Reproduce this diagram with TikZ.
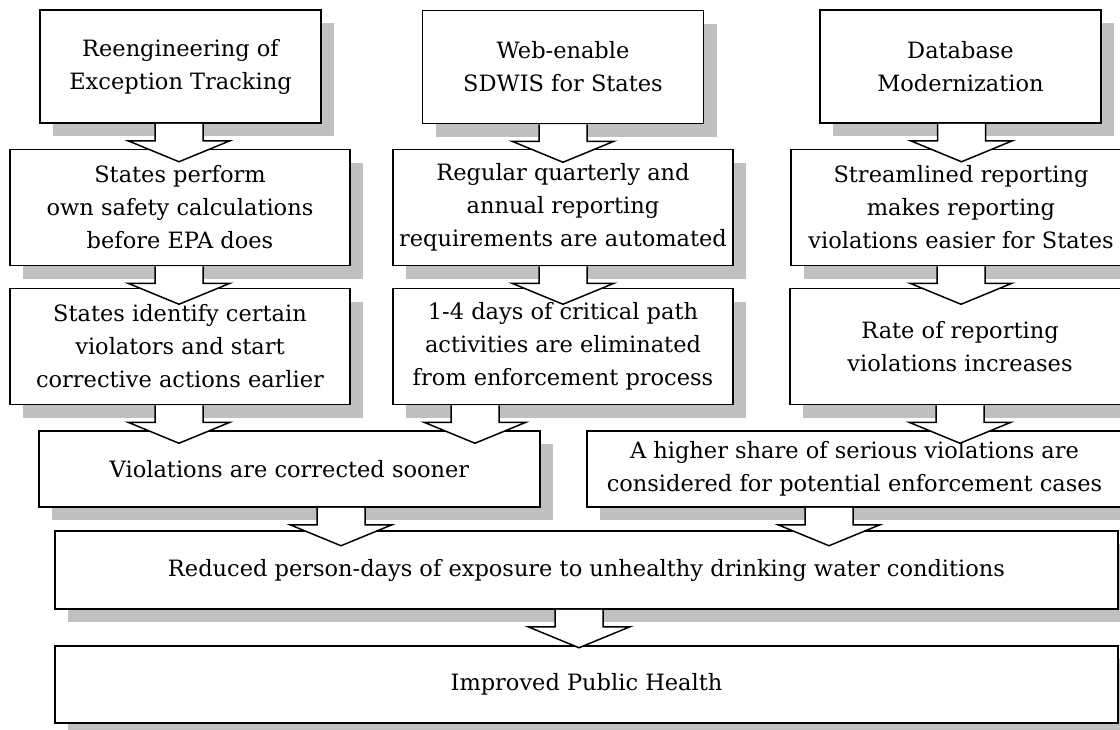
\documentclass[tikz,border=0pt]{standalone}
\usepackage{fontspec}
\setmainfont{DejaVu Serif}
\usetikzlibrary{shadows,calc}
\definecolor{shadowgray}{RGB}{192,192,192}

\begin{document}
\begin{tikzpicture}[x=1pt,y=-1pt,
  box/.style={draw,line width=1.5pt,fill=white,align=center,inner sep=0pt,
    font=\fontsize{22.5}{33}\selectfont,
    drop shadow={shadow xshift=13pt,shadow yshift=-13pt,fill=shadowgray,opacity=1}},
  topbox/.style={box,minimum width=281,minimum height=113},
  midbox/.style={box,minimum width=340,minimum height=116},
  flow/.style={draw,line width=1.5pt,fill=white}]
\def\flowarrow#1#2{\filldraw[flow] ($(#1)+(#2,0)$) ++(-24,0) -- ++(0,17) -- ++(-27,0)
  -- ++(51,21) -- ++(51,-21) -- ++(-27,0) -- ++(0,-17);}
\useasboundingbox (0,0) rectangle (1120,729);

% projects
\node[topbox] (reeng) at (180.5,66.5) {Reengineering of\\Exception Tracking};
\node[topbox] (web) at (563,67) {Web-enable\\SDWIS for States};
\node[topbox] (dbase) at (960.5,66.5) {Database\\Modernization};

% first outcomes
\node[midbox] (calc) at (180,207.5) {States perform\\own safety calculations\\before EPA does};
\node[midbox] (auto) at (563,207.5) {Regular quarterly and\\annual reporting\\requirements are automated};
\node[midbox] (stream) at (961,207.5) {Streamlined reporting\\makes reporting\\violations easier for States};

% second outcomes
\node[midbox] (ident) at (180,346.5) {States identify certain\\violators and start\\corrective actions earlier};
\node[midbox] (days) at (563,346.5) {1-4 days of critical path\\activities are eliminated\\from enforcement process};
\node[midbox] (rate) at (960,346.5) {Rate of reporting\\violations increases};

\node[box,minimum width=501,minimum height=76] (sooner) at (289.5,469) {Violations are corrected sooner};
\node[box,minimum width=535,minimum height=76] (share) at (854.5,469) {A higher share of serious violations are\\considered for potential enforcement cases};

\node[box,minimum width=1063,minimum height=78] (exposure) at (586.5,570) {Reduced person-days of exposure to unhealthy drinking water conditions};
\node[box,minimum width=1063,minimum height=77] (health) at (586.5,684.5) {Improved Public Health};

% block arrows
\flowarrow{reeng.south}{-1.5}
\flowarrow{web.south}{0}
\flowarrow{dbase.south}{1}
\flowarrow{calc.south}{-1}
\flowarrow{auto.south}{0}
\flowarrow{stream.south}{0}
\flowarrow{ident.south}{-1}
\flowarrow{days.south}{-88}
\flowarrow{rate.south}{0}
\flowarrow{sooner.south}{51.5}
\flowarrow{share.south}{-25.5}
\flowarrow{exposure.south}{-7.5}
\end{tikzpicture}
\end{document}
